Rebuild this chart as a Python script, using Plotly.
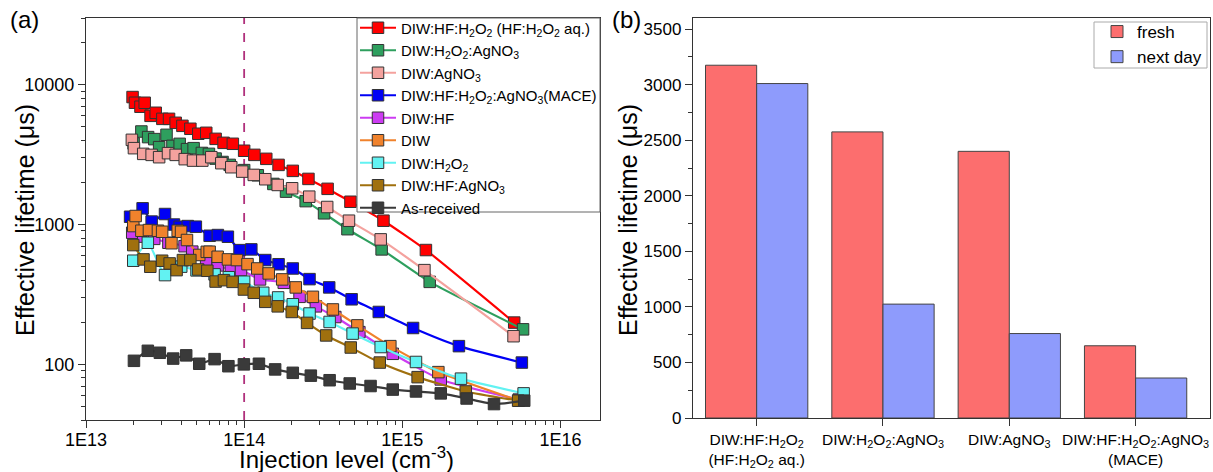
import math
import plotly.graph_objects as go

# ---------------- Panel (a): lifetime vs injection level ----------------
inj_red = [1.97e13, 2.04e13, 2.21e13, 2.35e13, 2.56e13, 2.76e13, 3.04e13, 3.35e13, 3.69e13, 4.07e13,
           4.57e13, 5.13e13, 5.76e13, 6.60e13, 7.41e13, 8.48e13, 1.00e14, 1.16e14, 1.38e14, 1.65e14,
           2.03e14, 2.55e14, 3.37e14, 4.7e14, 7.6e14, 1.41e15, 5.1e15]
tau_red = [8160, 7430, 6960, 7430, 5990, 6300, 5700, 5700, 5340, 5080,
           4840, 4460, 4530, 4100, 3840, 3780, 3370, 3150, 2950, 2670,
           2420, 2120, 1800, 1455, 1065, 657, 199]

inj_green = [2.0e13, 2.24e13, 2.47e13, 2.70e13, 2.90e13, 3.23e13, 3.52e13, 3.91e13, 4.35e13, 4.79e13,
             5.40e13, 5.99e13, 6.60e13, 7.3e13, 8.1e13, 1.0e14, 1.22e14, 1.53e14, 1.84e14, 2.45e14,
             3.2e14, 4.5e14, 7.4e14, 1.49e15, 5.8e15]
tau_green = [3800, 4627, 4220, 4082, 3575, 4381, 3653, 3776, 3460, 3517,
             3250, 3202, 2963, 2800, 2670, 2450, 2250, 1951, 1719, 1470,
             1203, 926, 664, 389, 178]

inj_pink = [1.95e13, 2.01e13, 2.30e13, 2.60e13, 2.90e13, 3.30e13, 3.69e13, 4.21e13, 4.75e13, 5.44e13,
            6.20e13, 7.17e13, 8.29e13, 9.72e13, 1.15e14, 1.36e14, 1.63e14, 2.01e14, 2.58e14, 3.35e14,
            4.6e14, 7.3e14, 1.38e15, 5.05e15]
tau_pink = [4034, 3517, 3202, 3149, 3031, 3239, 3149, 2934, 2866, 2866,
            3031, 2746, 2570, 2391, 2264, 2109, 1919, 1817, 1582, 1335,
            1065, 783, 472, 159]

inj_blue = [1.9e13, 2.28e13, 2.6e13, 3.16e13, 3.6e13, 3.91e13, 4.4e13, 4.95e13, 6.05e13, 6.82e13,
            7.89e13, 9.35e13, 1.11e14, 1.36e14, 1.65e14, 2.03e14, 2.59e14, 3.45e14, 4.78e14, 7.1e14,
            1.17e15, 2.28e15, 5.7e15]
tau_blue = [1137, 1306, 1050, 1189, 1000, 964, 975, 965, 831, 841,
            818, 656, 664, 557, 520, 485, 407, 355, 292, 237,
            182, 135, 103]

inj_mag = [1.96e13, 2.3e13, 2.7e13, 3.32e13, 4.2e13, 4.7e13, 5.75e13, 6.8e13, 8.24e13, 9.55e13,
           1.26e14, 1.78e14, 2.24e14, 2.84e14, 3.77e14, 5.35e14, 8.7e14, 1.75e15, 5.45e15]
tau_mag = [874, 820, 790, 741, 700, 640, 541, 510, 472, 472,
           405, 383, 304, 260, 218, 170, 119, 78, 56]

inj_orange = [1.99e13, 2.06e13, 2.24e13, 2.5e13, 2.85e13, 3.03e13, 3.47e13, 3.8e13, 3.99e13, 4.35e13,
              5.2e13, 5.8e13, 6.05e13, 6.8e13, 7.9e13, 9.0e13, 1.05e14, 1.21e14, 1.43e14, 1.74e14,
              2.12e14, 2.72e14, 3.64e14, 5.2e14, 8.4e14, 1.69e15, 5.45e15]
tau_orange = [975, 1151, 903, 913, 903, 888, 735, 903, 888, 775,
              606, 638, 639, 588, 563, 557, 521, 485, 447, 405,
              355, 304, 247, 190, 135, 88, 55]

inj_cyan = [1.99e13, 2.46e13, 3.16e13, 4.0e13, 5.0e13, 6.5e13, 8.0e13, 1.0e14, 1.32e14, 1.64e14,
            2.03e14, 2.59e14, 3.47e14, 4.85e14, 7.3e14, 1.22e15, 2.35e15, 5.85e15]
tau_cyan = [551, 741, 435, 500, 470, 440, 420, 390, 325, 301,
            269, 231, 201, 166, 133, 104, 79, 62]

inj_brown = [1.99e13, 2.31e13, 2.55e13, 3.03e13, 3.38e13, 3.74e13, 4.1e13, 4.57e13, 5.12e13, 5.85e13,
             6.6e13, 7.45e13, 8.45e13, 9.96e13, 1.15e14, 1.36e14, 1.63e14, 2.0e14, 2.5e14, 3.3e14,
             4.72e14, 7.2e14, 1.25e15, 2.52e15, 5.4e15]
tau_brown = [713, 563, 499, 551, 527, 472, 557, 557, 477, 467,
             391, 400, 389, 343, 325, 280, 260, 237, 198, 161,
             132, 103, 81, 64, 55]

inj_gray = [2.01e13, 2.46e13, 2.93e13, 3.56e13, 4.3e13, 5.2e13, 6.5e13, 7.95e13, 9.96e13, 1.24e14,
            1.57e14, 2.03e14, 2.64e14, 3.47e14, 4.65e14, 6.3e14, 8.7e14, 1.22e15, 1.75e15, 2.55e15,
            3.8e15, 5.9e15]
tau_gray = [106, 125, 121, 110, 116, 101, 109, 97, 100, 101,
            92, 87, 83, 77, 73, 70, 66, 64, 62, 57,
            52, 55]

names_a = [
    "DIW:HF:H<sub>2</sub>O<sub>2</sub> (HF:H<sub>2</sub>O<sub>2</sub> aq.)",
    "DIW:H<sub>2</sub>O<sub>2</sub>:AgNO<sub>3</sub>",
    "DIW:AgNO<sub>3</sub>",
    "DIW:HF:H<sub>2</sub>O<sub>2</sub>:AgNO<sub>3</sub>(MACE)",
    "DIW:HF",
    "DIW",
    "DIW:H<sub>2</sub>O<sub>2</sub>",
    "DIW:HF:AgNO<sub>3</sub>",
    "As-received",
]
inj_all = [inj_red, inj_green, inj_pink, inj_blue, inj_mag, inj_orange, inj_cyan, inj_brown, inj_gray]
tau_all = [tau_red, tau_green, tau_pink, tau_blue, tau_mag, tau_orange, tau_cyan, tau_brown, tau_gray]
colors_a = ["#FF0000", "#2E9F5E", "#F4A29E", "#0000F5", "#CC3CF2", "#F0822C", "#62F2F2", "#A0700E", "#3A3A3A"]

ref_injection = 1e14

# ---------------- Panel (b): bars ----------------
categories_b = [
    "DIW:HF:H<sub>2</sub>O<sub>2</sub><br>(HF:H<sub>2</sub>O<sub>2</sub> aq.)",
    "DIW:H<sub>2</sub>O<sub>2</sub>:AgNO<sub>3</sub>",
    "DIW:AgNO<sub>3</sub>",
    "DIW:HF:H<sub>2</sub>O<sub>2</sub>:AgNO<sub>3</sub><br>(MACE)",
]
fresh = [3175, 2575, 2400, 650]
next_day = [3010, 1025, 760, 360]

FONT = "Liberation Sans, Arial, sans-serif"
AX = "#333333"
W, H = 1213, 472

fig = go.Figure()

# reference dashed line at 1E14
fig.add_trace(go.Scatter(x=[ref_injection, ref_injection], y=[40, 30000], mode="lines",
                         line=dict(color="#B0307C", width=1.8, dash="dash"),
                         showlegend=False, hoverinfo="skip", xaxis="x", yaxis="y"))

for name, xs, ys, c in zip(names_a, inj_all, tau_all, colors_a):
    fig.add_trace(go.Scatter(
        x=xs, y=ys, name=name, mode="lines+markers",
        line=dict(color=c, width=2.2, shape="spline", smoothing=0.5),
        marker=dict(symbol="square", size=11.5, color=c, line=dict(color="#333333", width=1)),
        xaxis="x", yaxis="y", legend="legend"))

fig.add_trace(go.Bar(x=categories_b, y=fresh, name="fresh",
                     marker=dict(color="#FC6E6E", line=dict(color="#444444", width=1)),
                     xaxis="x2", yaxis="y2", legend="legend2"))
fig.add_trace(go.Bar(x=categories_b, y=next_day, name="next day",
                     marker=dict(color="#8E9BFC", line=dict(color="#444444", width=1)),
                     xaxis="x2", yaxis="y2", legend="legend2"))

xmin_tv = [m * 10 ** e for e in range(13, 17) for m in range(2, 10)]
ymin_tv = [m * 10 ** e for e in range(1, 5) for m in range(2, 10)]

common = dict(ticks="outside", ticklen=7, tickwidth=1.2, tickcolor=AX, automargin=False,
              showline=True, linecolor=AX, linewidth=1.3, mirror=True, showgrid=False, zeroline=False)

fig.update_layout(
    width=W, height=H, margin=dict(l=0, r=0, t=0, b=0, autoexpand=False),
    paper_bgcolor="white", plot_bgcolor="white",
    font=dict(family=FONT, color="black"),
    barmode="group", bargap=0.19, bargroupgap=0,
    xaxis=dict(domain=[86 / W, 600 / W], type="log", range=[13, 16.25],
               tickmode="array", tickvals=[1e13, 1e14, 1e15, 1e16], ticktext=["1E13", "1E14", "1E15", "1E16"],
               minor=dict(tickmode="array", tickvals=xmin_tv, ticks="outside", ticklen=4, tickwidth=1, tickcolor=AX),
               tickfont=dict(size=18), ticklabelstandoff=-4, anchor="y", **common),
    yaxis=dict(domain=[1 - 420 / H, 1 - 18 / H], type="log", range=[math.log10(40), math.log10(30000)],
               tickmode="array", tickvals=[100, 1000, 10000], ticktext=["100", "1000", "10000"],
               minor=dict(tickmode="array", tickvals=ymin_tv, ticks="outside", ticklen=4, tickwidth=1, tickcolor=AX),
               tickfont=dict(size=18), anchor="x", **common),
    xaxis2=dict(domain=[693 / W, 1210 / W], range=[-0.504, 3.589], type="category",
                tickfont=dict(size=15.5), anchor="y2", **common),
    yaxis2=dict(domain=[1 - 418 / H, 1 - 18 / H], range=[0, 3600],
                tickmode="linear", tick0=0, dtick=500,
                minor=dict(dtick=250, ticks="outside", ticklen=4, tickwidth=1, tickcolor=AX),
                tickfont=dict(size=17), anchor="x2", **common),
    legend=dict(x=355 / W, y=1 - 11.5 / H, xanchor="left", yanchor="top",
                bgcolor="rgba(0,0,0,0)", borderwidth=0,
                font=dict(size=15), tracegroupgap=0, itemwidth=36),
    legend2=dict(x=1207 / W, y=1 - 14 / H, xanchor="right", yanchor="top",
                 bgcolor="rgba(0,0,0,0)", borderwidth=0,
                 font=dict(size=17), tracegroupgap=0),
    shapes=[
        # legend frames (drawn over the curves, under the legend text)
        dict(type="rect", xref="paper", yref="paper", x0=357 / W, x1=600 / W, y0=1 - 212 / H, y1=1 - 18 / H,
             fillcolor="white", line=dict(color="#666666", width=1), layer="above"),
        dict(type="rect", xref="paper", yref="paper", x0=1094 / W, x1=1207 / W, y0=1 - 68 / H, y1=1 - 22 / H,
             fillcolor="white", line=dict(color="#AAAAAA", width=1), layer="above"),
    ],
    annotations=[
        dict(text="(a)", x=8 / W, y=1 - 4 / H, xref="paper", yref="paper", xanchor="left", yanchor="top",
             showarrow=False, font=dict(size=24)),
        dict(text="(b)", x=610 / W, y=1 - 4 / H, xref="paper", yref="paper", xanchor="left", yanchor="top",
             showarrow=False, font=dict(size=24)),
        dict(text="Effective lifetime (μs)", x=25 / W, y=1 - 220 / H, xref="paper", yref="paper",
             xanchor="center", yanchor="middle", textangle=-90, showarrow=False, font=dict(size=25)),
        dict(text="Effective lifetime (μs)", x=628 / W, y=1 - 220 / H, xref="paper", yref="paper",
             xanchor="center", yanchor="middle", textangle=-90, showarrow=False, font=dict(size=25)),
        dict(text="Injection level (cm<sup>-3</sup>)", x=346 / W, y=1 - 458 / H, xref="paper", yref="paper",
             xanchor="center", yanchor="middle", showarrow=False, font=dict(size=24)),
    ],
)

fig.write_html("out.html")
